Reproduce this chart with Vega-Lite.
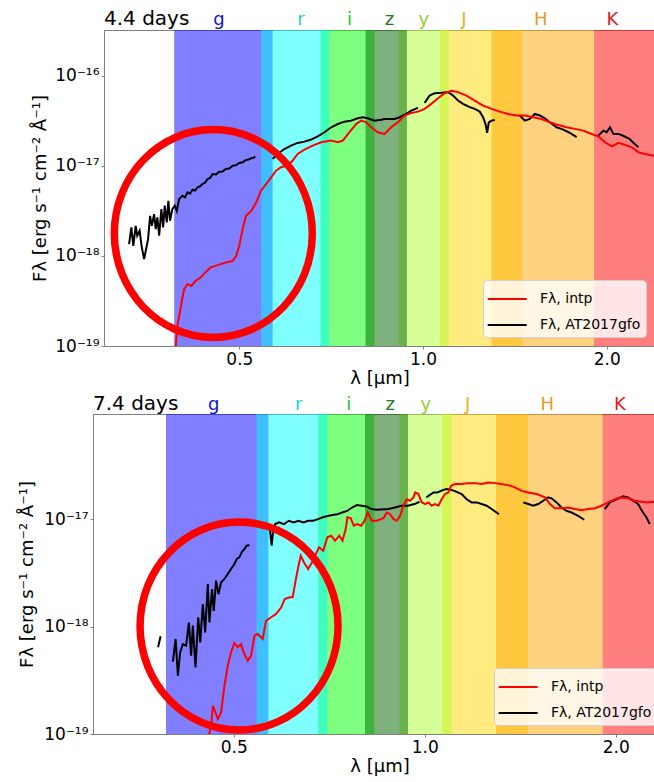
{
  "$schema": "https://vega.github.io/schema/vega-lite/v6.json",
  "usermeta": {"embedOptions": {"actions": false}},
  "background": "white",
  "padding": {"left": 18, "top": 8, "right": 0, "bottom": 0},
  "config": {
    "font": "DejaVu Sans",
    "view": {"stroke": "#808080", "strokeWidth": 1},
    "axis": {
      "grid": false,
      "labelFont": "DejaVu Sans",
      "titleFont": "DejaVu Sans",
      "labelFontSize": 17,
      "titleFontSize": 18,
      "titleFontWeight": "normal",
      "labelColor": "black",
      "titleColor": "black",
      "domainColor": "#808080",
      "tickColor": "#808080",
      "tickSize": 3,
      "labelPadding": 2
    },
    "legend": {
      "orient": "bottom-right", "offset": 9, "title": null,
      "symbolType": "M-1.1,0L1.9,0", "symbolStrokeWidth": 2, "symbolSize": 676,
      "labelFont": "DejaVu Sans", "labelFontSize": 14, "labelColor": "black", "labelOffset": 24,
      "fillColor": "rgba(255,255,255,0.8)", "strokeColor": "#d0d0d0", "cornerRadius": 4,
      "padding": 5, "rowPadding": 5
    },
    "text": {"font": "DejaVu Sans"}
  },
  "datasets": {
    "bands": [
      {"band": "g", "lo": 0.391, "hi": 0.567},
      {"band": "i", "lo": 0.679, "hi": 0.833},
      {"band": "r", "lo": 0.543, "hi": 0.702},
      {"band": "J", "lo": 1.065, "hi": 1.455},
      {"band": "y", "lo": 0.912, "hi": 1.102},
      {"band": "z", "lo": 0.805, "hi": 0.941},
      {"band": "H", "lo": 1.295, "hi": 1.907},
      {"band": "K", "lo": 1.907, "hi": 2.6}
    ],
    "labels44": [
      {"band": "g", "lam": 0.463, "F": 3.66e-16},
      {"band": "r", "lam": 0.631, "F": 3.66e-16},
      {"band": "i", "lam": 0.758, "F": 3.66e-16},
      {"band": "z", "lam": 0.881, "F": 3.66e-16},
      {"band": "y", "lam": 1.003, "F": 3.66e-16},
      {"band": "J", "lam": 1.167, "F": 3.66e-16},
      {"band": "H", "lam": 1.56, "F": 3.66e-16},
      {"band": "K", "lam": 2.043, "F": 3.66e-16}
    ],
    "labels74": [
      {"band": "g", "lam": 0.465, "F": 1.045e-16},
      {"band": "r", "lam": 0.633, "F": 1.045e-16},
      {"band": "i", "lam": 0.759, "F": 1.045e-16},
      {"band": "z", "lam": 0.882, "F": 1.045e-16},
      {"band": "y", "lam": 1.004, "F": 1.045e-16},
      {"band": "J", "lam": 1.168, "F": 1.045e-16},
      {"band": "H", "lam": 1.56, "F": 1.045e-16},
      {"band": "K", "lam": 2.03, "F": 1.045e-16}
    ],
    "spec44": [
      {"s": "AT2017gfo", "seg": "b1", "lam": 0.3298, "F": 1.35e-18},
      {"s": "AT2017gfo", "seg": "b1", "lam": 0.3326, "F": 2.07e-18},
      {"s": "AT2017gfo", "seg": "b1", "lam": 0.3351, "F": 1.29e-18},
      {"s": "AT2017gfo", "seg": "b1", "lam": 0.3381, "F": 2.15e-18},
      {"s": "AT2017gfo", "seg": "b1", "lam": 0.3401, "F": 1.67e-18},
      {"s": "AT2017gfo", "seg": "b1", "lam": 0.3432, "F": 1.9e-18},
      {"s": "AT2017gfo", "seg": "b1", "lam": 0.3457, "F": 1.29e-18},
      {"s": "AT2017gfo", "seg": "b1", "lam": 0.349, "F": 9.2e-19},
      {"s": "AT2017gfo", "seg": "b1", "lam": 0.3512, "F": 1.14e-18},
      {"s": "AT2017gfo", "seg": "b1", "lam": 0.3543, "F": 1.53e-18},
      {"s": "AT2017gfo", "seg": "b1", "lam": 0.357, "F": 2.78e-18},
      {"s": "AT2017gfo", "seg": "b1", "lam": 0.3593, "F": 2.15e-18},
      {"s": "AT2017gfo", "seg": "b1", "lam": 0.3624, "F": 2.9e-18},
      {"s": "AT2017gfo", "seg": "b1", "lam": 0.3647, "F": 1.98e-18},
      {"s": "AT2017gfo", "seg": "b1", "lam": 0.3669, "F": 2.67e-18},
      {"s": "AT2017gfo", "seg": "b1", "lam": 0.3694, "F": 1.67e-18},
      {"s": "AT2017gfo", "seg": "b1", "lam": 0.3725, "F": 3.3e-18},
      {"s": "AT2017gfo", "seg": "b1", "lam": 0.375, "F": 2.07e-18},
      {"s": "AT2017gfo", "seg": "b1", "lam": 0.3773, "F": 3.6e-18},
      {"s": "AT2017gfo", "seg": "b1", "lam": 0.3802, "F": 2.35e-18},
      {"s": "AT2017gfo", "seg": "b1", "lam": 0.3825, "F": 4.08e-18},
      {"s": "AT2017gfo", "seg": "b1", "lam": 0.3849, "F": 2.45e-18},
      {"s": "AT2017gfo", "seg": "b1", "lam": 0.3883, "F": 3.3e-18},
      {"s": "AT2017gfo", "seg": "b1", "lam": 0.3918, "F": 3.6e-18},
      {"s": "AT2017gfo", "seg": "b1", "lam": 0.3948, "F": 3.14e-18},
      {"s": "AT2017gfo", "seg": "b1", "lam": 0.3984, "F": 4.27e-18},
      {"s": "AT2017gfo", "seg": "b1", "lam": 0.4034, "F": 4.64e-18},
      {"s": "AT2017gfo", "seg": "b1", "lam": 0.4072, "F": 4.45e-18},
      {"s": "AT2017gfo", "seg": "b1", "lam": 0.4111, "F": 5.06e-18},
      {"s": "AT2017gfo", "seg": "b1", "lam": 0.415, "F": 4.9e-18},
      {"s": "AT2017gfo", "seg": "b1", "lam": 0.419, "F": 5.41e-18},
      {"s": "AT2017gfo", "seg": "b1", "lam": 0.423, "F": 5.3e-18},
      {"s": "AT2017gfo", "seg": "b1", "lam": 0.427, "F": 5.75e-18},
      {"s": "AT2017gfo", "seg": "b1", "lam": 0.431, "F": 5.9e-18},
      {"s": "AT2017gfo", "seg": "b1", "lam": 0.4352, "F": 6.26e-18},
      {"s": "AT2017gfo", "seg": "b1", "lam": 0.4393, "F": 6.5e-18},
      {"s": "AT2017gfo", "seg": "b1", "lam": 0.4435, "F": 7.11e-18},
      {"s": "AT2017gfo", "seg": "b1", "lam": 0.4478, "F": 7.3e-18},
      {"s": "AT2017gfo", "seg": "b1", "lam": 0.452, "F": 8.09e-18},
      {"s": "AT2017gfo", "seg": "b1", "lam": 0.4577, "F": 8.0e-18},
      {"s": "AT2017gfo", "seg": "b1", "lam": 0.4634, "F": 8.57e-18},
      {"s": "AT2017gfo", "seg": "b1", "lam": 0.4693, "F": 8.6e-18},
      {"s": "AT2017gfo", "seg": "b1", "lam": 0.4752, "F": 9.18e-18},
      {"s": "AT2017gfo", "seg": "b1", "lam": 0.4813, "F": 9.3e-18},
      {"s": "AT2017gfo", "seg": "b1", "lam": 0.4874, "F": 1.0e-17},
      {"s": "AT2017gfo", "seg": "b1", "lam": 0.4935, "F": 1.01e-17},
      {"s": "AT2017gfo", "seg": "b1", "lam": 0.4998, "F": 1.07e-17},
      {"s": "AT2017gfo", "seg": "b1", "lam": 0.5062, "F": 1.09e-17},
      {"s": "AT2017gfo", "seg": "b1", "lam": 0.5127, "F": 1.156e-17},
      {"s": "AT2017gfo", "seg": "b1", "lam": 0.5178, "F": 1.17e-17},
      {"s": "AT2017gfo", "seg": "b1", "lam": 0.523, "F": 1.21e-17},
      {"s": "AT2017gfo", "seg": "b1", "lam": 0.527, "F": 1.22e-17},
      {"s": "AT2017gfo", "seg": "b1", "lam": 0.531, "F": 1.26e-17},
      {"s": "AT2017gfo", "seg": "b2", "lam": 0.5668, "F": 1.19e-17},
      {"s": "AT2017gfo", "seg": "b2", "lam": 0.5777, "F": 1.35e-17},
      {"s": "AT2017gfo", "seg": "b2", "lam": 0.5925, "F": 1.53e-17},
      {"s": "AT2017gfo", "seg": "b2", "lam": 0.6076, "F": 1.67e-17},
      {"s": "AT2017gfo", "seg": "b2", "lam": 0.623, "F": 1.79e-17},
      {"s": "AT2017gfo", "seg": "b2", "lam": 0.6391, "F": 1.85e-17},
      {"s": "AT2017gfo", "seg": "b2", "lam": 0.6555, "F": 1.95e-17},
      {"s": "AT2017gfo", "seg": "b2", "lam": 0.672, "F": 2.12e-17},
      {"s": "AT2017gfo", "seg": "b2", "lam": 0.6893, "F": 2.35e-17},
      {"s": "AT2017gfo", "seg": "b2", "lam": 0.707, "F": 2.67e-17},
      {"s": "AT2017gfo", "seg": "b2", "lam": 0.725, "F": 2.9e-17},
      {"s": "AT2017gfo", "seg": "b2", "lam": 0.7434, "F": 3.08e-17},
      {"s": "AT2017gfo", "seg": "b2", "lam": 0.7625, "F": 3.16e-17},
      {"s": "AT2017gfo", "seg": "b2", "lam": 0.7816, "F": 3.36e-17},
      {"s": "AT2017gfo", "seg": "b2", "lam": 0.7967, "F": 3.45e-17},
      {"s": "AT2017gfo", "seg": "b2", "lam": 0.8121, "F": 3.36e-17},
      {"s": "AT2017gfo", "seg": "b2", "lam": 0.8327, "F": 3.16e-17},
      {"s": "AT2017gfo", "seg": "b2", "lam": 0.854, "F": 3.24e-17},
      {"s": "AT2017gfo", "seg": "b2", "lam": 0.8648, "F": 3.3e-17},
      {"s": "AT2017gfo", "seg": "b2", "lam": 0.8982, "F": 3.3e-17},
      {"s": "AT2017gfo", "seg": "b2", "lam": 0.9153, "F": 3.45e-17},
      {"s": "AT2017gfo", "seg": "b2", "lam": 0.9387, "F": 3.75e-17},
      {"s": "AT2017gfo", "seg": "b2", "lam": 0.9565, "F": 4.08e-17},
      {"s": "AT2017gfo", "seg": "b2", "lam": 0.9811, "F": 4.38e-17},
      {"s": "AT2017gfo", "seg": "b3", "lam": 1.0061, "F": 4.98e-17},
      {"s": "AT2017gfo", "seg": "b3", "lam": 1.0253, "F": 6.0e-17},
      {"s": "AT2017gfo", "seg": "b3", "lam": 1.0448, "F": 6.37e-17},
      {"s": "AT2017gfo", "seg": "b3", "lam": 1.0717, "F": 6.43e-17},
      {"s": "AT2017gfo", "seg": "b3", "lam": 1.0991, "F": 6.55e-17},
      {"s": "AT2017gfo", "seg": "b3", "lam": 1.1198, "F": 6.0e-17},
      {"s": "AT2017gfo", "seg": "b3", "lam": 1.1412, "F": 5.28e-17},
      {"s": "AT2017gfo", "seg": "b3", "lam": 1.163, "F": 4.85e-17},
      {"s": "AT2017gfo", "seg": "b3", "lam": 1.1927, "F": 4.46e-17},
      {"s": "AT2017gfo", "seg": "b3", "lam": 1.2154, "F": 4.27e-17},
      {"s": "AT2017gfo", "seg": "b3", "lam": 1.2386, "F": 3.98e-17},
      {"s": "AT2017gfo", "seg": "b3", "lam": 1.2543, "F": 3.45e-17},
      {"s": "AT2017gfo", "seg": "b3", "lam": 1.2659, "F": 2.9e-17},
      {"s": "AT2017gfo", "seg": "b3", "lam": 1.2737, "F": 2.31e-17},
      {"s": "AT2017gfo", "seg": "b3", "lam": 1.2818, "F": 3.03e-17},
      {"s": "AT2017gfo", "seg": "b3", "lam": 1.295, "F": 3.16e-17},
      {"s": "AT2017gfo", "seg": "b3", "lam": 1.3109, "F": 3.22e-17},
      {"s": "AT2017gfo", "seg": "b4", "lam": 1.4409, "F": 3.6e-17},
      {"s": "AT2017gfo", "seg": "b4", "lam": 1.4684, "F": 3.16e-17},
      {"s": "AT2017gfo", "seg": "b4", "lam": 1.4964, "F": 3.3e-17},
      {"s": "AT2017gfo", "seg": "b4", "lam": 1.525, "F": 3.75e-17},
      {"s": "AT2017gfo", "seg": "b4", "lam": 1.5541, "F": 3.6e-17},
      {"s": "AT2017gfo", "seg": "b4", "lam": 1.5837, "F": 3.36e-17},
      {"s": "AT2017gfo", "seg": "b4", "lam": 1.6139, "F": 3.03e-17},
      {"s": "AT2017gfo", "seg": "b4", "lam": 1.6552, "F": 2.67e-17},
      {"s": "AT2017gfo", "seg": "b4", "lam": 1.6973, "F": 2.51e-17},
      {"s": "AT2017gfo", "seg": "b4", "lam": 1.7407, "F": 2.31e-17},
      {"s": "AT2017gfo", "seg": "b4", "lam": 1.7853, "F": 2.07e-17},
      {"s": "AT2017gfo", "seg": "b5", "lam": 1.9376, "F": 2.15e-17},
      {"s": "AT2017gfo", "seg": "b5", "lam": 1.9746, "F": 2.45e-17},
      {"s": "AT2017gfo", "seg": "b5", "lam": 2.0, "F": 2.35e-17},
      {"s": "AT2017gfo", "seg": "b5", "lam": 2.0249, "F": 2.67e-17},
      {"s": "AT2017gfo", "seg": "b5", "lam": 2.051, "F": 2.25e-17},
      {"s": "AT2017gfo", "seg": "b5", "lam": 2.0928, "F": 2.25e-17},
      {"s": "AT2017gfo", "seg": "b5", "lam": 2.1358, "F": 2.12e-17},
      {"s": "AT2017gfo", "seg": "b5", "lam": 2.1795, "F": 1.98e-17},
      {"s": "AT2017gfo", "seg": "b5", "lam": 2.224, "F": 1.74e-17},
      {"s": "AT2017gfo", "seg": "b5", "lam": 2.2545, "F": 1.6e-17},
      {"s": "intp", "seg": "r", "lam": 0.3915, "F": 7e-20},
      {"s": "intp", "seg": "r", "lam": 0.3933, "F": 1.0e-19},
      {"s": "intp", "seg": "r", "lam": 0.3956, "F": 1.67e-19},
      {"s": "intp", "seg": "r", "lam": 0.3995, "F": 2.35e-19},
      {"s": "intp", "seg": "r", "lam": 0.4029, "F": 3.3e-19},
      {"s": "intp", "seg": "r", "lam": 0.406, "F": 4.27e-19},
      {"s": "intp", "seg": "r", "lam": 0.4111, "F": 4.85e-19},
      {"s": "intp", "seg": "r", "lam": 0.417, "F": 4.64e-19},
      {"s": "intp", "seg": "r", "lam": 0.424, "F": 5.28e-19},
      {"s": "intp", "seg": "r", "lam": 0.432, "F": 5.75e-19},
      {"s": "intp", "seg": "r", "lam": 0.44, "F": 6.55e-19},
      {"s": "intp", "seg": "r", "lam": 0.4483, "F": 7.43e-19},
      {"s": "intp", "seg": "r", "lam": 0.457, "F": 7.74e-19},
      {"s": "intp", "seg": "r", "lam": 0.4659, "F": 8.09e-19},
      {"s": "intp", "seg": "r", "lam": 0.4752, "F": 8.45e-19},
      {"s": "intp", "seg": "r", "lam": 0.4876, "F": 8.79e-19},
      {"s": "intp", "seg": "r", "lam": 0.4941, "F": 1.0e-18},
      {"s": "intp", "seg": "r", "lam": 0.4998, "F": 1.29e-18},
      {"s": "intp", "seg": "r", "lam": 0.5061, "F": 1.98e-18},
      {"s": "intp", "seg": "r", "lam": 0.5127, "F": 2.78e-18},
      {"s": "intp", "seg": "r", "lam": 0.523, "F": 3.16e-18},
      {"s": "intp", "seg": "r", "lam": 0.533, "F": 3.92e-18},
      {"s": "intp", "seg": "r", "lam": 0.5425, "F": 5.28e-18},
      {"s": "intp", "seg": "r", "lam": 0.5531, "F": 6.26e-18},
      {"s": "intp", "seg": "r", "lam": 0.5638, "F": 7.43e-18},
      {"s": "intp", "seg": "r", "lam": 0.5742, "F": 8.79e-18},
      {"s": "intp", "seg": "r", "lam": 0.5852, "F": 9.6e-18},
      {"s": "intp", "seg": "r", "lam": 0.6, "F": 1.0e-17},
      {"s": "intp", "seg": "r", "lam": 0.6116, "F": 1.14e-17},
      {"s": "intp", "seg": "r", "lam": 0.623, "F": 1.35e-17},
      {"s": "intp", "seg": "r", "lam": 0.6391, "F": 1.51e-17},
      {"s": "intp", "seg": "r", "lam": 0.6595, "F": 1.67e-17},
      {"s": "intp", "seg": "r", "lam": 0.6806, "F": 1.82e-17},
      {"s": "intp", "seg": "r", "lam": 0.707, "F": 1.9e-17},
      {"s": "intp", "seg": "r", "lam": 0.725, "F": 1.82e-17},
      {"s": "intp", "seg": "r", "lam": 0.7387, "F": 1.9e-17},
      {"s": "intp", "seg": "r", "lam": 0.7576, "F": 2.35e-17},
      {"s": "intp", "seg": "r", "lam": 0.777, "F": 2.9e-17},
      {"s": "intp", "seg": "r", "lam": 0.7918, "F": 3.16e-17},
      {"s": "intp", "seg": "r", "lam": 0.807, "F": 3.03e-17},
      {"s": "intp", "seg": "r", "lam": 0.8224, "F": 2.67e-17},
      {"s": "intp", "seg": "r", "lam": 0.8432, "F": 2.35e-17},
      {"s": "intp", "seg": "r", "lam": 0.8648, "F": 2.25e-17},
      {"s": "intp", "seg": "r", "lam": 0.887, "F": 2.67e-17},
      {"s": "intp", "seg": "r", "lam": 0.9097, "F": 3.03e-17},
      {"s": "intp", "seg": "r", "lam": 0.9328, "F": 3.6e-17},
      {"s": "intp", "seg": "r", "lam": 0.9565, "F": 3.85e-17},
      {"s": "intp", "seg": "r", "lam": 0.9811, "F": 3.98e-17},
      {"s": "intp", "seg": "r", "lam": 1.0061, "F": 4.27e-17},
      {"s": "intp", "seg": "r", "lam": 1.0318, "F": 4.85e-17},
      {"s": "intp", "seg": "r", "lam": 1.058, "F": 5.61e-17},
      {"s": "intp", "seg": "r", "lam": 1.0851, "F": 6.37e-17},
      {"s": "intp", "seg": "r", "lam": 1.1132, "F": 6.76e-17},
      {"s": "intp", "seg": "r", "lam": 1.1412, "F": 6.55e-17},
      {"s": "intp", "seg": "r", "lam": 1.1777, "F": 6.0e-17},
      {"s": "intp", "seg": "r", "lam": 1.2154, "F": 5.28e-17},
      {"s": "intp", "seg": "r", "lam": 1.2543, "F": 4.64e-17},
      {"s": "intp", "seg": "r", "lam": 1.295, "F": 4.27e-17},
      {"s": "intp", "seg": "r", "lam": 1.3359, "F": 3.98e-17},
      {"s": "intp", "seg": "r", "lam": 1.379, "F": 3.75e-17},
      {"s": "intp", "seg": "r", "lam": 1.423, "F": 3.6e-17},
      {"s": "intp", "seg": "r", "lam": 1.4684, "F": 3.6e-17},
      {"s": "intp", "seg": "r", "lam": 1.5154, "F": 3.45e-17},
      {"s": "intp", "seg": "r", "lam": 1.564, "F": 3.3e-17},
      {"s": "intp", "seg": "r", "lam": 1.6139, "F": 3.03e-17},
      {"s": "intp", "seg": "r", "lam": 1.6656, "F": 2.83e-17},
      {"s": "intp", "seg": "r", "lam": 1.7189, "F": 2.67e-17},
      {"s": "intp", "seg": "r", "lam": 1.7739, "F": 2.56e-17},
      {"s": "intp", "seg": "r", "lam": 1.8307, "F": 2.45e-17},
      {"s": "intp", "seg": "r", "lam": 1.8896, "F": 2.25e-17},
      {"s": "intp", "seg": "r", "lam": 1.9376, "F": 2.12e-17},
      {"s": "intp", "seg": "r", "lam": 1.987, "F": 1.82e-17},
      {"s": "intp", "seg": "r", "lam": 2.0378, "F": 1.64e-17},
      {"s": "intp", "seg": "r", "lam": 2.0928, "F": 1.79e-17},
      {"s": "intp", "seg": "r", "lam": 2.1431, "F": 1.7e-17},
      {"s": "intp", "seg": "r", "lam": 2.199, "F": 1.6e-17},
      {"s": "intp", "seg": "r", "lam": 2.2539, "F": 1.41e-17},
      {"s": "intp", "seg": "r", "lam": 2.3115, "F": 1.35e-17},
      {"s": "intp", "seg": "r", "lam": 2.3852, "F": 1.29e-17},
      {"s": "intp", "seg": "r", "lam": 2.45, "F": 1.28e-17}
    ],
    "spec74": [
      {"s": "AT2017gfo", "seg": "c0", "lam": 0.3799, "F": 6.41e-19},
      {"s": "AT2017gfo", "seg": "c0", "lam": 0.3834, "F": 8.11e-19},
      {"s": "AT2017gfo", "seg": "c1", "lam": 0.4009, "F": 4.71e-19},
      {"s": "AT2017gfo", "seg": "c1", "lam": 0.4049, "F": 7.66e-19},
      {"s": "AT2017gfo", "seg": "c1", "lam": 0.4082, "F": 3.49e-19},
      {"s": "AT2017gfo", "seg": "c1", "lam": 0.4116, "F": 5.75e-19},
      {"s": "AT2017gfo", "seg": "c1", "lam": 0.4156, "F": 6.87e-19},
      {"s": "AT2017gfo", "seg": "c1", "lam": 0.4206, "F": 6.63e-19},
      {"s": "AT2017gfo", "seg": "c1", "lam": 0.4248, "F": 1.09e-18},
      {"s": "AT2017gfo", "seg": "c1", "lam": 0.4283, "F": 5.36e-19},
      {"s": "AT2017gfo", "seg": "c1", "lam": 0.431, "F": 1.02e-18},
      {"s": "AT2017gfo", "seg": "c1", "lam": 0.4352, "F": 4.17e-19},
      {"s": "AT2017gfo", "seg": "c1", "lam": 0.4395, "F": 1.22e-18},
      {"s": "AT2017gfo", "seg": "c1", "lam": 0.4427, "F": 7.13e-19},
      {"s": "AT2017gfo", "seg": "c1", "lam": 0.4469, "F": 1.62e-18},
      {"s": "AT2017gfo", "seg": "c1", "lam": 0.4507, "F": 8.83e-19},
      {"s": "AT2017gfo", "seg": "c1", "lam": 0.455, "F": 2.48e-18},
      {"s": "AT2017gfo", "seg": "c1", "lam": 0.4578, "F": 1.09e-18},
      {"s": "AT2017gfo", "seg": "c1", "lam": 0.4621, "F": 2.23e-18},
      {"s": "AT2017gfo", "seg": "c1", "lam": 0.465, "F": 1.4e-18},
      {"s": "AT2017gfo", "seg": "c1", "lam": 0.4689, "F": 2.67e-18},
      {"s": "AT2017gfo", "seg": "c1", "lam": 0.473, "F": 2.0e-18},
      {"s": "AT2017gfo", "seg": "c1", "lam": 0.4775, "F": 2.58e-18},
      {"s": "AT2017gfo", "seg": "c1", "lam": 0.4834, "F": 2.77e-18},
      {"s": "AT2017gfo", "seg": "c1", "lam": 0.4892, "F": 3.08e-18},
      {"s": "AT2017gfo", "seg": "c1", "lam": 0.4951, "F": 3.43e-18},
      {"s": "AT2017gfo", "seg": "c1", "lam": 0.5012, "F": 3.81e-18},
      {"s": "AT2017gfo", "seg": "c1", "lam": 0.5054, "F": 4.25e-18},
      {"s": "AT2017gfo", "seg": "c1", "lam": 0.5103, "F": 4.4e-18},
      {"s": "AT2017gfo", "seg": "c1", "lam": 0.5152, "F": 4.97e-18},
      {"s": "AT2017gfo", "seg": "c1", "lam": 0.5196, "F": 5.26e-18},
      {"s": "AT2017gfo", "seg": "c1", "lam": 0.5239, "F": 5.65e-18},
      {"s": "AT2017gfo", "seg": "c1", "lam": 0.529, "F": 5.73e-18},
      {"s": "AT2017gfo", "seg": "c2", "lam": 0.5675, "F": 8.98e-18},
      {"s": "AT2017gfo", "seg": "c2", "lam": 0.5709, "F": 7.52e-18},
      {"s": "AT2017gfo", "seg": "c2", "lam": 0.5736, "F": 5.65e-18},
      {"s": "AT2017gfo", "seg": "c2", "lam": 0.5762, "F": 7.25e-18},
      {"s": "AT2017gfo", "seg": "c2", "lam": 0.5811, "F": 8.98e-18},
      {"s": "AT2017gfo", "seg": "c2", "lam": 0.5894, "F": 9.31e-18},
      {"s": "AT2017gfo", "seg": "c2", "lam": 0.5999, "F": 8.98e-18},
      {"s": "AT2017gfo", "seg": "c2", "lam": 0.6106, "F": 9.64e-18},
      {"s": "AT2017gfo", "seg": "c2", "lam": 0.6214, "F": 9.31e-18},
      {"s": "AT2017gfo", "seg": "c2", "lam": 0.6324, "F": 9.64e-18},
      {"s": "AT2017gfo", "seg": "c2", "lam": 0.6437, "F": 9.31e-18},
      {"s": "AT2017gfo", "seg": "c2", "lam": 0.6551, "F": 9.64e-18},
      {"s": "AT2017gfo", "seg": "c2", "lam": 0.6668, "F": 9.64e-18},
      {"s": "AT2017gfo", "seg": "c2", "lam": 0.6787, "F": 1.0e-17},
      {"s": "AT2017gfo", "seg": "c2", "lam": 0.6907, "F": 1.04e-17},
      {"s": "AT2017gfo", "seg": "c2", "lam": 0.703, "F": 1.07e-17},
      {"s": "AT2017gfo", "seg": "c2", "lam": 0.7156, "F": 1.09e-17},
      {"s": "AT2017gfo", "seg": "c2", "lam": 0.7283, "F": 1.11e-17},
      {"s": "AT2017gfo", "seg": "c2", "lam": 0.7412, "F": 1.15e-17},
      {"s": "AT2017gfo", "seg": "c2", "lam": 0.7545, "F": 1.19e-17},
      {"s": "AT2017gfo", "seg": "c2", "lam": 0.7679, "F": 1.28e-17},
      {"s": "AT2017gfo", "seg": "c2", "lam": 0.7816, "F": 1.35e-17},
      {"s": "AT2017gfo", "seg": "c2", "lam": 0.7956, "F": 1.33e-17},
      {"s": "AT2017gfo", "seg": "c2", "lam": 0.8098, "F": 1.31e-17},
      {"s": "AT2017gfo", "seg": "c2", "lam": 0.8242, "F": 1.24e-17},
      {"s": "AT2017gfo", "seg": "c2", "lam": 0.8389, "F": 1.22e-17},
      {"s": "AT2017gfo", "seg": "c2", "lam": 0.8766, "F": 1.24e-17},
      {"s": "AT2017gfo", "seg": "c2", "lam": 0.8974, "F": 1.28e-17},
      {"s": "AT2017gfo", "seg": "c2", "lam": 0.9186, "F": 1.33e-17},
      {"s": "AT2017gfo", "seg": "c2", "lam": 0.9408, "F": 1.33e-17},
      {"s": "AT2017gfo", "seg": "c2", "lam": 0.9635, "F": 1.38e-17},
      {"s": "AT2017gfo", "seg": "c2", "lam": 0.9812, "F": 1.45e-17},
      {"s": "AT2017gfo", "seg": "c3", "lam": 1.0057, "F": 1.59e-17},
      {"s": "AT2017gfo", "seg": "c3", "lam": 1.0321, "F": 1.77e-17},
      {"s": "AT2017gfo", "seg": "c3", "lam": 1.0469, "F": 1.77e-17},
      {"s": "AT2017gfo", "seg": "c3", "lam": 1.07, "F": 1.87e-17},
      {"s": "AT2017gfo", "seg": "c3", "lam": 1.0829, "F": 1.9e-17},
      {"s": "AT2017gfo", "seg": "c3", "lam": 1.1026, "F": 1.87e-17},
      {"s": "AT2017gfo", "seg": "c3", "lam": 1.1228, "F": 1.79e-17},
      {"s": "AT2017gfo", "seg": "c3", "lam": 1.1433, "F": 1.71e-17},
      {"s": "AT2017gfo", "seg": "c3", "lam": 1.1642, "F": 1.53e-17},
      {"s": "AT2017gfo", "seg": "c3", "lam": 1.1855, "F": 1.43e-17},
      {"s": "AT2017gfo", "seg": "c3", "lam": 1.2072, "F": 1.43e-17},
      {"s": "AT2017gfo", "seg": "c3", "lam": 1.2293, "F": 1.38e-17},
      {"s": "AT2017gfo", "seg": "c3", "lam": 1.2517, "F": 1.33e-17},
      {"s": "AT2017gfo", "seg": "c3", "lam": 1.2746, "F": 1.24e-17},
      {"s": "AT2017gfo", "seg": "c3", "lam": 1.2978, "F": 1.15e-17},
      {"s": "AT2017gfo", "seg": "c3", "lam": 1.3092, "F": 1.11e-17},
      {"s": "AT2017gfo", "seg": "c4", "lam": 1.4297, "F": 1.43e-17},
      {"s": "AT2017gfo", "seg": "c4", "lam": 1.4558, "F": 1.38e-17},
      {"s": "AT2017gfo", "seg": "c4", "lam": 1.4825, "F": 1.33e-17},
      {"s": "AT2017gfo", "seg": "c4", "lam": 1.5096, "F": 1.38e-17},
      {"s": "AT2017gfo", "seg": "c4", "lam": 1.5371, "F": 1.48e-17},
      {"s": "AT2017gfo", "seg": "c4", "lam": 1.5653, "F": 1.59e-17},
      {"s": "AT2017gfo", "seg": "c4", "lam": 1.5843, "F": 1.56e-17},
      {"s": "AT2017gfo", "seg": "c4", "lam": 1.6134, "F": 1.43e-17},
      {"s": "AT2017gfo", "seg": "c4", "lam": 1.6428, "F": 1.28e-17},
      {"s": "AT2017gfo", "seg": "c4", "lam": 1.6728, "F": 1.19e-17},
      {"s": "AT2017gfo", "seg": "c4", "lam": 1.7034, "F": 1.15e-17},
      {"s": "AT2017gfo", "seg": "c4", "lam": 1.745, "F": 1.07e-17},
      {"s": "AT2017gfo", "seg": "c4", "lam": 1.7835, "F": 9.86e-18},
      {"s": "AT2017gfo", "seg": "c5", "lam": 1.922, "F": 1.24e-17},
      {"s": "AT2017gfo", "seg": "c5", "lam": 1.9573, "F": 1.43e-17},
      {"s": "AT2017gfo", "seg": "c5", "lam": 2.0047, "F": 1.53e-17},
      {"s": "AT2017gfo", "seg": "c5", "lam": 2.054, "F": 1.63e-17},
      {"s": "AT2017gfo", "seg": "c5", "lam": 2.0916, "F": 1.59e-17},
      {"s": "AT2017gfo", "seg": "c5", "lam": 2.1298, "F": 1.48e-17},
      {"s": "AT2017gfo", "seg": "c5", "lam": 2.1686, "F": 1.38e-17},
      {"s": "AT2017gfo", "seg": "c5", "lam": 2.2004, "F": 1.19e-17},
      {"s": "AT2017gfo", "seg": "c5", "lam": 2.2349, "F": 1.04e-17},
      {"s": "AT2017gfo", "seg": "c5", "lam": 2.2624, "F": 8.98e-18},
      {"s": "intp", "seg": "r", "lam": 0.453, "F": 8e-20},
      {"s": "intp", "seg": "r", "lam": 0.4606, "F": 1.19e-19},
      {"s": "intp", "seg": "r", "lam": 0.4634, "F": 1.83e-19},
      {"s": "intp", "seg": "r", "lam": 0.4679, "F": 1.59e-19},
      {"s": "intp", "seg": "r", "lam": 0.4718, "F": 1.38e-19},
      {"s": "intp", "seg": "r", "lam": 0.4775, "F": 1.59e-19},
      {"s": "intp", "seg": "r", "lam": 0.4834, "F": 2.81e-19},
      {"s": "intp", "seg": "r", "lam": 0.4892, "F": 4.32e-19},
      {"s": "intp", "seg": "r", "lam": 0.4951, "F": 5.75e-19},
      {"s": "intp", "seg": "r", "lam": 0.5012, "F": 7.03e-19},
      {"s": "intp", "seg": "r", "lam": 0.5073, "F": 6.41e-19},
      {"s": "intp", "seg": "r", "lam": 0.5133, "F": 6.87e-19},
      {"s": "intp", "seg": "r", "lam": 0.5196, "F": 5.55e-19},
      {"s": "intp", "seg": "r", "lam": 0.526, "F": 4.81e-19},
      {"s": "intp", "seg": "r", "lam": 0.5323, "F": 5.36e-19},
      {"s": "intp", "seg": "r", "lam": 0.5391, "F": 8.22e-19},
      {"s": "intp", "seg": "r", "lam": 0.5454, "F": 8.51e-19},
      {"s": "intp", "seg": "r", "lam": 0.5553, "F": 7.66e-19},
      {"s": "intp", "seg": "r", "lam": 0.5621, "F": 1.13e-18},
      {"s": "intp", "seg": "r", "lam": 0.5725, "F": 1.22e-18},
      {"s": "intp", "seg": "r", "lam": 0.5831, "F": 1.31e-18},
      {"s": "intp", "seg": "r", "lam": 0.5941, "F": 1.51e-18},
      {"s": "intp", "seg": "r", "lam": 0.6015, "F": 1.8e-18},
      {"s": "intp", "seg": "r", "lam": 0.6124, "F": 1.87e-18},
      {"s": "intp", "seg": "r", "lam": 0.6191, "F": 1.87e-18},
      {"s": "intp", "seg": "r", "lam": 0.6265, "F": 2.77e-18},
      {"s": "intp", "seg": "r", "lam": 0.6325, "F": 3.68e-18},
      {"s": "intp", "seg": "r", "lam": 0.6376, "F": 4.56e-18},
      {"s": "intp", "seg": "r", "lam": 0.6452, "F": 3.95e-18},
      {"s": "intp", "seg": "r", "lam": 0.6549, "F": 3.43e-18},
      {"s": "intp", "seg": "r", "lam": 0.6641, "F": 3.95e-18},
      {"s": "intp", "seg": "r", "lam": 0.6734, "F": 4.72e-18},
      {"s": "intp", "seg": "r", "lam": 0.6812, "F": 5.46e-18},
      {"s": "intp", "seg": "r", "lam": 0.6918, "F": 5.07e-18},
      {"s": "intp", "seg": "r", "lam": 0.7022, "F": 6.76e-18},
      {"s": "intp", "seg": "r", "lam": 0.7121, "F": 7.0e-18},
      {"s": "intp", "seg": "r", "lam": 0.7222, "F": 6.29e-18},
      {"s": "intp", "seg": "r", "lam": 0.7333, "F": 7.0e-18},
      {"s": "intp", "seg": "r", "lam": 0.742, "F": 6.29e-18},
      {"s": "intp", "seg": "r", "lam": 0.7506, "F": 8.07e-18},
      {"s": "intp", "seg": "r", "lam": 0.7552, "F": 1.04e-17},
      {"s": "intp", "seg": "r", "lam": 0.7641, "F": 1.02e-17},
      {"s": "intp", "seg": "r", "lam": 0.7731, "F": 8.67e-18},
      {"s": "intp", "seg": "r", "lam": 0.7826, "F": 8.98e-18},
      {"s": "intp", "seg": "r", "lam": 0.7943, "F": 8.67e-18},
      {"s": "intp", "seg": "r", "lam": 0.8036, "F": 9.64e-18},
      {"s": "intp", "seg": "r", "lam": 0.8131, "F": 1.15e-17},
      {"s": "intp", "seg": "r", "lam": 0.8252, "F": 9.64e-18},
      {"s": "intp", "seg": "r", "lam": 0.8398, "F": 9.64e-18},
      {"s": "intp", "seg": "r", "lam": 0.8609, "F": 1.02e-17},
      {"s": "intp", "seg": "r", "lam": 0.8712, "F": 1.15e-17},
      {"s": "intp", "seg": "r", "lam": 0.8821, "F": 1.11e-17},
      {"s": "intp", "seg": "r", "lam": 0.8926, "F": 1.0e-17},
      {"s": "intp", "seg": "r", "lam": 0.9034, "F": 9.64e-18},
      {"s": "intp", "seg": "r", "lam": 0.9145, "F": 1.07e-17},
      {"s": "intp", "seg": "r", "lam": 0.9253, "F": 1.33e-17},
      {"s": "intp", "seg": "r", "lam": 0.9369, "F": 1.53e-17},
      {"s": "intp", "seg": "r", "lam": 0.9483, "F": 1.48e-17},
      {"s": "intp", "seg": "r", "lam": 0.9597, "F": 1.59e-17},
      {"s": "intp", "seg": "r", "lam": 0.9656, "F": 1.77e-17},
      {"s": "intp", "seg": "r", "lam": 0.9773, "F": 1.71e-17},
      {"s": "intp", "seg": "r", "lam": 0.989, "F": 1.43e-17},
      {"s": "intp", "seg": "r", "lam": 1.0012, "F": 1.38e-17},
      {"s": "intp", "seg": "r", "lam": 1.0133, "F": 1.43e-17},
      {"s": "intp", "seg": "r", "lam": 1.0254, "F": 1.33e-17},
      {"s": "intp", "seg": "r", "lam": 1.0378, "F": 1.38e-17},
      {"s": "intp", "seg": "r", "lam": 1.0507, "F": 1.33e-17},
      {"s": "intp", "seg": "r", "lam": 1.0633, "F": 1.53e-17},
      {"s": "intp", "seg": "r", "lam": 1.0765, "F": 1.71e-17},
      {"s": "intp", "seg": "r", "lam": 1.0896, "F": 1.77e-17},
      {"s": "intp", "seg": "r", "lam": 1.1, "F": 2.04e-17},
      {"s": "intp", "seg": "r", "lam": 1.116, "F": 2.12e-17},
      {"s": "intp", "seg": "r", "lam": 1.1433, "F": 2.12e-17},
      {"s": "intp", "seg": "r", "lam": 1.1714, "F": 2.16e-17},
      {"s": "intp", "seg": "r", "lam": 1.1997, "F": 2.16e-17},
      {"s": "intp", "seg": "r", "lam": 1.2288, "F": 2.12e-17},
      {"s": "intp", "seg": "r", "lam": 1.2594, "F": 2.19e-17},
      {"s": "intp", "seg": "r", "lam": 1.2899, "F": 2.16e-17},
      {"s": "intp", "seg": "r", "lam": 1.3216, "F": 2.12e-17},
      {"s": "intp", "seg": "r", "lam": 1.3541, "F": 2.07e-17},
      {"s": "intp", "seg": "r", "lam": 1.3874, "F": 1.97e-17},
      {"s": "intp", "seg": "r", "lam": 1.4214, "F": 1.83e-17},
      {"s": "intp", "seg": "r", "lam": 1.4558, "F": 1.77e-17},
      {"s": "intp", "seg": "r", "lam": 1.5004, "F": 1.71e-17},
      {"s": "intp", "seg": "r", "lam": 1.5472, "F": 1.59e-17},
      {"s": "intp", "seg": "r", "lam": 1.575, "F": 1.38e-17},
      {"s": "intp", "seg": "r", "lam": 1.6041, "F": 1.26e-17},
      {"s": "intp", "seg": "r", "lam": 1.6428, "F": 1.26e-17},
      {"s": "intp", "seg": "r", "lam": 1.6829, "F": 1.28e-17},
      {"s": "intp", "seg": "r", "lam": 1.724, "F": 1.24e-17},
      {"s": "intp", "seg": "r", "lam": 1.766, "F": 1.21e-17},
      {"s": "intp", "seg": "r", "lam": 1.8098, "F": 1.24e-17},
      {"s": "intp", "seg": "r", "lam": 1.8545, "F": 1.26e-17},
      {"s": "intp", "seg": "r", "lam": 1.899, "F": 1.33e-17},
      {"s": "intp", "seg": "r", "lam": 1.9456, "F": 1.43e-17},
      {"s": "intp", "seg": "r", "lam": 1.993, "F": 1.53e-17},
      {"s": "intp", "seg": "r", "lam": 2.0412, "F": 1.59e-17},
      {"s": "intp", "seg": "r", "lam": 2.0916, "F": 1.56e-17},
      {"s": "intp", "seg": "r", "lam": 2.1424, "F": 1.48e-17},
      {"s": "intp", "seg": "r", "lam": 2.1947, "F": 1.45e-17},
      {"s": "intp", "seg": "r", "lam": 2.2489, "F": 1.43e-17},
      {"s": "intp", "seg": "r", "lam": 2.2816, "F": 1.45e-17},
      {"s": "intp", "seg": "r", "lam": 2.4, "F": 1.41e-17}
    ]
  },
  "vconcat": [
    {
      "width": 551,
      "height": 316,
      "layer": [
        {
          "data": {"name": "bands"},
          "mark": {"type": "rect", "opacity": 0.5, "clip": true},
          "encoding": {
            "x": {
              "field": "lo", "type": "quantitative",
              "scale": {"type": "log", "domain": [0.3, 2.4], "nice": false},
              "axis": {"values": [0.5, 1, 2], "format": ".1f", "title": "λ [μm]", "titlePadding": 2}
            },
            "x2": {"field": "hi"},
            "fill": {
              "field": "band", "type": "nominal",
              "scale": {"domain": ["g", "r", "i", "z", "y", "J", "H", "K"], "range": ["#0000ff", "#00ffff", "#00ff00", "#006400", "#adff2f", "#ffd700", "#ffa500", "#ff0000"]},
              "legend": null
            }
          }
        },
        {
          "data": {"name": "spec44"},
          "mark": {"type": "line", "strokeWidth": 2, "clip": true},
          "encoding": {
            "x": {"field": "lam", "type": "quantitative"},
            "y": {
              "field": "F", "type": "quantitative",
              "scale": {"type": "log", "domain": [1e-19, 3.2e-16], "nice": false},
              "axis": {
                "values": [1e-19, 1e-18, 1e-17, 1e-16],
                "labelExpr": "datum.value > 5e-17 ? '10⁻¹⁶' : datum.value > 5e-18 ? '10⁻¹⁷' : datum.value > 5e-19 ? '10⁻¹⁸' : '10⁻¹⁹'",
                "title": "Fλ [erg s⁻¹ cm⁻² Å⁻¹]",
                "titlePadding": 5
              }
            },
            "stroke": {
              "field": "s", "type": "nominal",
              "scale": {"domain": ["intp", "AT2017gfo"], "range": ["#ff0000", "#000000"]},
              "legend": {"labelExpr": "datum.value == 'intp' ? 'Fλ, intp' : 'Fλ, AT2017gfo'"}
            },
            "detail": {"field": "seg"}
          }
        },
        {
          "data": {"values": [{"lam": 0.4532, "F": 1.77e-18}]},
          "mark": {"type": "point", "shape": "M-1,0A1,1.05,0,1,1,1,0A1,1.05,0,1,1,-1,0Z", "size": 39204, "filled": false, "stroke": "#ff0000", "strokeWidth": 7.5, "opacity": 1},
          "encoding": {
            "x": {"field": "lam", "type": "quantitative"},
            "y": {"field": "F", "type": "quantitative"}
          }
        },
        {
          "data": {"name": "labels44"},
          "mark": {"type": "text", "fontSize": 18, "align": "center", "baseline": "alphabetic"},
          "encoding": {
            "x": {"field": "lam", "type": "quantitative"},
            "y": {"field": "F", "type": "quantitative"},
            "text": {"field": "band"},
            "color": {
              "field": "band", "type": "nominal",
              "scale": {"domain": ["g", "r", "i", "z", "y", "J", "H", "K"], "range": ["#1010dd", "#22d0d0", "#22cc22", "#1f7a1f", "#99cc33", "#e6b422", "#e69c24", "#e31a1c"]},
              "legend": null
            }
          }
        },
        {
          "data": {"values": [{"t": "4.4 days", "lam": 0.3, "F": 3.66e-16}]},
          "mark": {"type": "text", "fontSize": 20, "align": "left", "baseline": "alphabetic", "color": "black"},
          "encoding": {
            "x": {"field": "lam", "type": "quantitative"},
            "y": {"field": "F", "type": "quantitative"},
            "text": {"field": "t"}
          }
        }
      ]
    },
    {
      "width": 573,
      "height": 320,
      "layer": [
        {
          "data": {"name": "bands"},
          "mark": {"type": "rect", "opacity": 0.5, "clip": true},
          "encoding": {
            "x": {
              "field": "lo", "type": "quantitative",
              "scale": {"type": "log", "domain": [0.3, 2.4], "nice": false},
              "axis": {"values": [0.5, 1, 2], "format": ".1f", "title": "λ [μm]", "titlePadding": 2}
            },
            "x2": {"field": "hi"},
            "fill": {
              "field": "band", "type": "nominal",
              "scale": {"domain": ["g", "r", "i", "z", "y", "J", "H", "K"], "range": ["#0000ff", "#00ffff", "#00ff00", "#006400", "#adff2f", "#ffd700", "#ffa500", "#ff0000"]},
              "legend": null
            }
          }
        },
        {
          "data": {"name": "spec74"},
          "mark": {"type": "line", "strokeWidth": 2, "clip": true},
          "encoding": {
            "x": {"field": "lam", "type": "quantitative"},
            "y": {
              "field": "F", "type": "quantitative",
              "scale": {"type": "log", "domain": [1e-19, 9.5e-17], "nice": false},
              "axis": {
                "values": [1e-19, 1e-18, 1e-17],
                "labelExpr": "datum.value > 5e-18 ? '10⁻¹⁷' : datum.value > 5e-19 ? '10⁻¹⁸' : '10⁻¹⁹'",
                "title": "Fλ [erg s⁻¹ cm⁻² Å⁻¹]",
                "titlePadding": 7
              }
            },
            "stroke": {
              "field": "s", "type": "nominal",
              "scale": {"domain": ["intp", "AT2017gfo"], "range": ["#ff0000", "#000000"]},
              "legend": {"labelExpr": "datum.value == 'intp' ? 'Fλ, intp' : 'Fλ, AT2017gfo'"}
            },
            "detail": {"field": "seg"}
          }
        },
        {
          "data": {"values": [{"lam": 0.5097, "F": 1.01e-18}]},
          "mark": {"type": "point", "shape": "M-1,0A1,1.05,0,1,1,1,0A1,1.05,0,1,1,-1,0Z", "size": 39204, "filled": false, "stroke": "#ff0000", "strokeWidth": 7.5, "opacity": 1},
          "encoding": {
            "x": {"field": "lam", "type": "quantitative"},
            "y": {"field": "F", "type": "quantitative"}
          }
        },
        {
          "data": {"name": "labels74"},
          "mark": {"type": "text", "fontSize": 18, "align": "center", "baseline": "alphabetic"},
          "encoding": {
            "x": {"field": "lam", "type": "quantitative"},
            "y": {"field": "F", "type": "quantitative"},
            "text": {"field": "band"},
            "color": {
              "field": "band", "type": "nominal",
              "scale": {"domain": ["g", "r", "i", "z", "y", "J", "H", "K"], "range": ["#1010dd", "#22d0d0", "#22cc22", "#1f7a1f", "#99cc33", "#e6b422", "#e69c24", "#e31a1c"]},
              "legend": null
            }
          }
        },
        {
          "data": {"values": [{"t": "7.4 days", "lam": 0.3, "F": 1.045e-16}]},
          "mark": {"type": "text", "fontSize": 20, "align": "left", "baseline": "alphabetic", "color": "black"},
          "encoding": {
            "x": {"field": "lam", "type": "quantitative"},
            "y": {"field": "F", "type": "quantitative"},
            "text": {"field": "t"}
          }
        }
      ]
    }
  ],
  "spacing": 68,
  "bounds": "flush",
  "center": true,
  "resolve": {
    "scale": {"x": "independent", "y": "independent", "fill": "independent", "stroke": "independent", "color": "independent"},
    "legend": {"stroke": "independent"}
  }
}
